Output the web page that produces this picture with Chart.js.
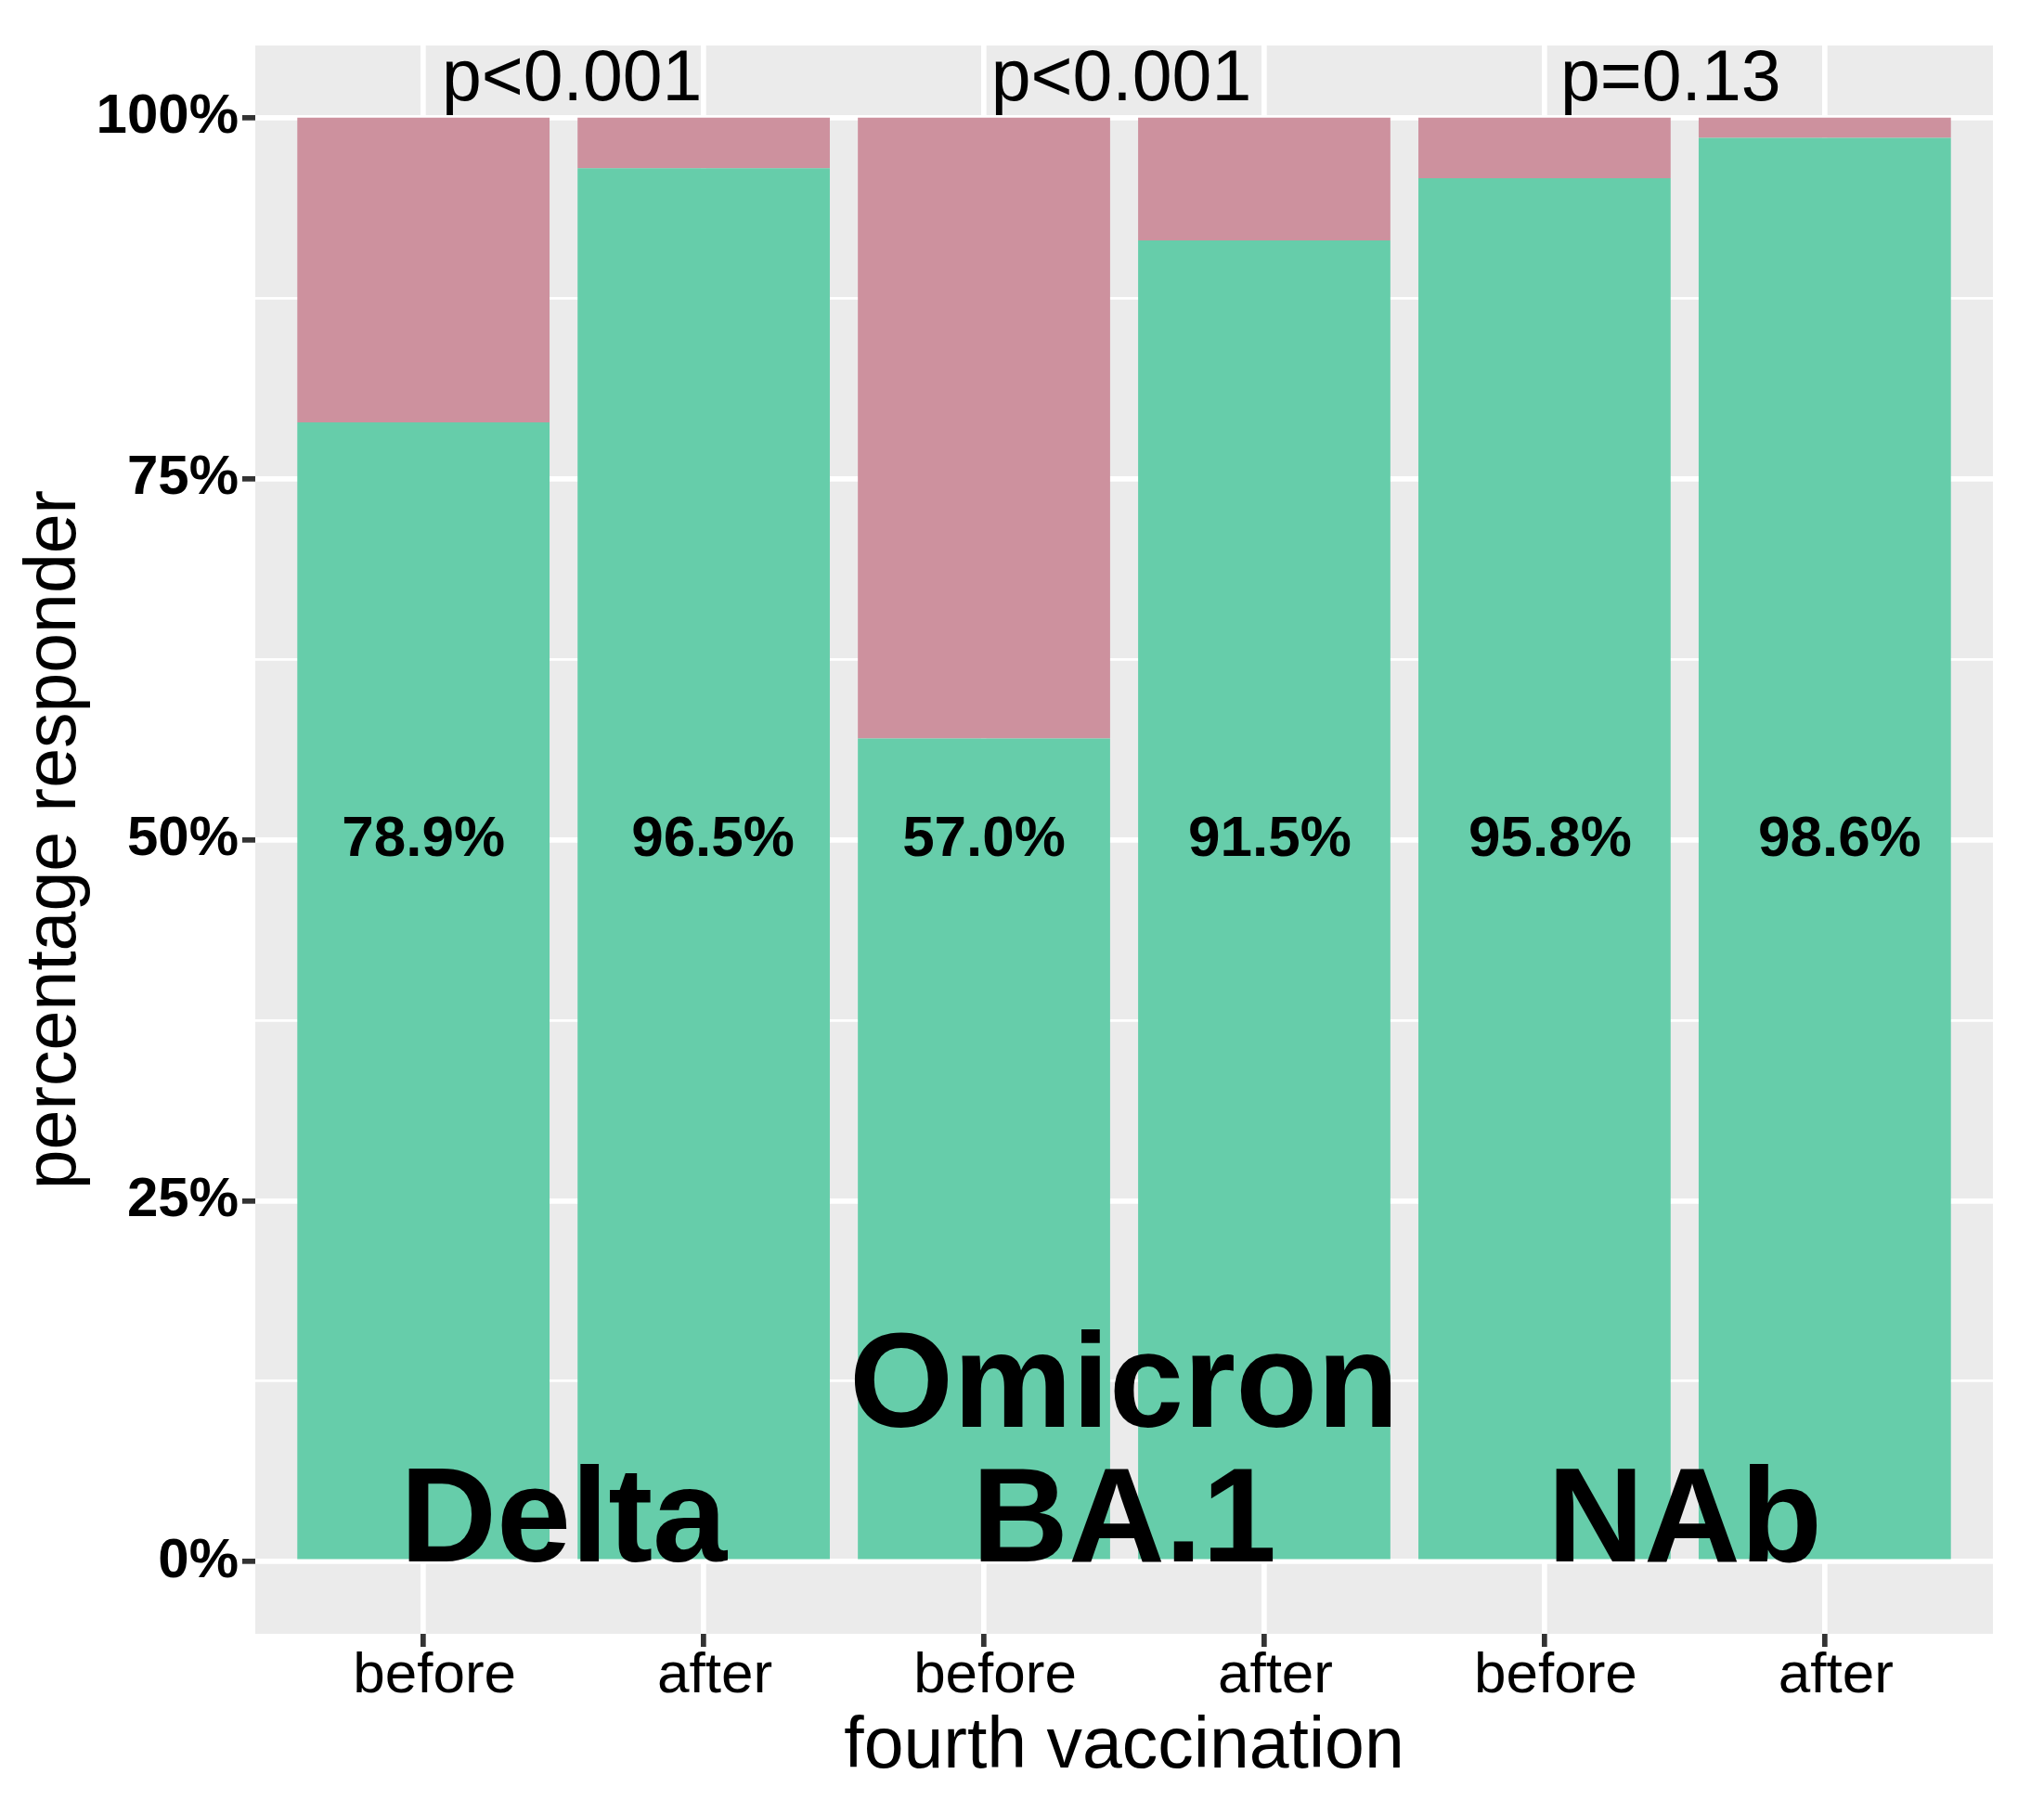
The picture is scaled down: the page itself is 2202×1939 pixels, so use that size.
<!DOCTYPE html>
<html>
<head>
<meta charset="utf-8">
<script src="https://cdn.jsdelivr.net/npm/chart.js@4"></script>
<style>
html, body { margin: 0; padding: 0; background: #ffffff; }
canvas { display: block; }
</style>
</head>
<body>
<canvas id="c" width="2202" height="1939" style="width:2202px;height:1939px"></canvas>
<script>
// ---- data ----
const categories = ['before', 'after', 'before', 'after', 'before', 'after'];
const responderPct = [78.9, 96.5, 57.0, 91.5, 95.8, 98.6];
const nonResponderPct = [21.1, 3.5, 43.0, 8.5, 4.2, 1.4];
const barLabelX = [0, 1.033, 2, 3.02, 4.02, 5.053];
const groupLabels = [['Delta'], ['Omicron', 'BA.1'], ['NAb']];
const groupCenters = [0.5, 2.5, 4.5];
const pLabels = ['p<0.001', 'p<0.001', 'p=0.13'];
const pLabelX = [0.53, 2.49, 4.45];
const yTickValues = [0, 12.5, 25, 37.5, 50, 62.5, 75, 87.5, 100];

const FF = '"Liberation Sans", Arial, Helvetica, sans-serif';
const GREEN = '#66CDAA';
const PINK = '#CD919E';

const panelBg = {
  id: 'panelBg',
  beforeDraw(chart) {
    const { ctx, chartArea: a } = chart;
    ctx.save();
    ctx.fillStyle = '#ffffff';
    ctx.fillRect(0, 0, chart.width, chart.height);
    ctx.fillStyle = '#EBEBEB';
    ctx.fillRect(a.left, a.top, a.right - a.left, a.bottom - a.top);
    ctx.restore();
  }
};

const annotations = {
  id: 'annotations',
  afterDatasetsDraw(chart) {
    const { ctx, scales: { x, y } } = chart;
    ctx.save();
    ctx.fillStyle = '#000000';
    ctx.textAlign = 'center';
    // percentages inside bars
    ctx.font = `bold 62px ${FF}`;
    ctx.textBaseline = 'middle';
    responderPct.forEach((v, i) => {
      ctx.fillText(v.toFixed(1) + '%', x.getPixelForValue(barLabelX[i]), y.getPixelForValue(50));
    });
    // p-values at top
    ctx.font = `77px ${FF}`;
    ctx.textBaseline = 'alphabetic';
    pLabels.forEach((t, g) => {
      ctx.fillText(t, x.getPixelForValue(pLabelX[g]), y.getPixelForValue(101.2));
    });
    // big group labels
    ctx.font = `bold 144px ${FF}`;
    groupLabels.forEach((lines, g) => {
      const px = x.getPixelForValue(groupCenters[g]);
      const base = y.getPixelForValue(0);
      lines.forEach((ln, k) => {
        ctx.fillText(ln, px, base - (lines.length - 1 - k) * 145);
      });
    });
    ctx.restore();
  }
};

const isMajor = c => c.tick && Math.abs(c.tick.value % 25) < 1e-9;

new Chart(document.getElementById('c'), {
  type: 'bar',
  data: {
    datasets: [
      {
        label: 'responder',
        data: responderPct.map((v, i) => ({ x: i, y: v })),
        backgroundColor: GREEN,
        borderWidth: 0,
        categoryPercentage: 0.9,
        barPercentage: 1.0
      },
      {
        label: 'non-responder',
        data: nonResponderPct.map((v, i) => ({ x: i, y: v })),
        backgroundColor: PINK,
        borderWidth: 0,
        categoryPercentage: 0.9,
        barPercentage: 1.0
      }
    ]
  },
  options: {
    responsive: false,
    devicePixelRatio: 1,
    animation: false,
    layout: { padding: { left: 0, right: 55, top: 49, bottom: 0 } },
    plugins: { legend: { display: false }, tooltip: { enabled: false } },
    scales: {
      x: {
        type: 'linear',
        min: -0.6,
        max: 5.6,
        stacked: true,
        offset: false,
        afterBuildTicks: s => { s.ticks = categories.map((_, i) => ({ value: i })); },
        afterFit: s => { s.height = 179; },
        ticks: {
          callback: v => (categories[v] !== undefined ? categories[v] : ''),
          font: { family: FF, size: 62, lineHeight: 1 },
          color: '#000000',
          padding: 1,
          maxRotation: 0,
          minRotation: 0,
          autoSkip: false,
          labelOffset: 12
        },
        grid: {
          offset: false,
          color: '#ffffff',
          lineWidth: 5.7,
          drawTicks: true,
          tickLength: 14,
          tickColor: '#333333',
          tickWidth: 5.7
        },
        border: { display: false },
        title: {
          display: true,
          text: 'fourth vaccination',
          color: '#000000',
          font: { family: FF, size: 77, lineHeight: 1.2 },
          padding: { top: 0, bottom: 10 }
        }
      },
      y: {
        min: -5,
        max: 105,
        stacked: true,
        afterBuildTicks: s => { s.ticks = yTickValues.map(v => ({ value: v })); },
        afterFit: s => { s.width = 275; },
        ticks: {
          callback: v => (Math.abs(v % 25) < 1e-9 ? v + '%' : ''),
          font: { family: FF, size: 60, weight: 'bold', lineHeight: 1 },
          color: '#000000',
          padding: 4
        },
        grid: {
          offset: false,
          color: '#ffffff',
          lineWidth: c => (isMajor(c) ? 5.7 : 2.85),
          drawTicks: true,
          tickLength: 14,
          tickColor: c => (isMajor(c) ? '#333333' : 'rgba(0,0,0,0)'),
          tickWidth: 5.7
        },
        border: { display: false },
        title: {
          display: true,
          text: 'percentage responder',
          color: '#000000',
          font: { family: FF, size: 77, lineHeight: 1.2 },
          padding: { top: 14, bottom: 0 }
        }
      }
    }
  },
  plugins: [panelBg, annotations]
});
</script>
</body>
</html>
